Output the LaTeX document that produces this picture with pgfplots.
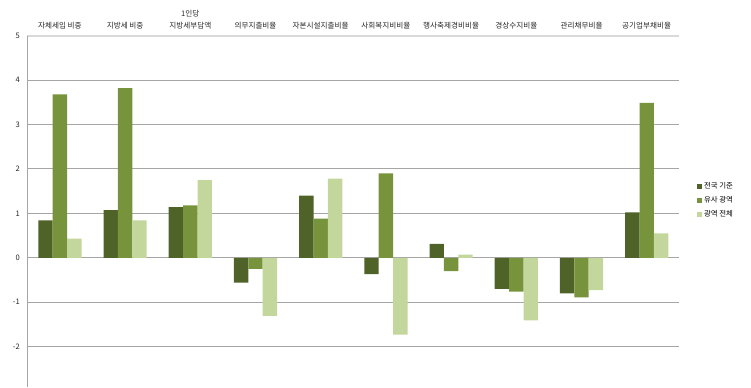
\documentclass[border=0pt]{standalone}
\usepackage{fontspec}
\setmainfont{Noto Sans CJK KR}
\usepackage{pgfplots}
\pgfplotsset{compat=1.18}
\definecolor{cdark}{HTML}{4F6228}
\definecolor{cmid}{HTML}{77933C}
\definecolor{clight}{HTML}{C3D69B}
\definecolor{cgrid}{HTML}{A6A6A6}
\definecolor{ctop}{HTML}{D9D9D9}
\begin{document}
\begin{tikzpicture}[x=1bp,y=1bp]
\useasboundingbox (0,0) rectangle (751,387);
\begin{axis}[
  at={(27.3bp,0bp)}, anchor=south west,
  scale only axis, width=652bp, height=351.3bp,
  xmin=-0.5, xmax=9.5, ymin=-2.91, ymax=5,
  ybar=0pt, bar width=14.4bp,
  legend image code/.code={\fill[#1,draw=none] (0bp,-2.6bp) rectangle (5bp,2.4bp);},
  axis line style={draw=none},
  major tick length=0pt,
  xtick={0,...,9},
  xticklabels={자체세입 비중,지방세 비중,1인당\\지방세부담액,의무지출비율,자본시설지출비율,사회복지비비율,행사축제경비비율,경상수지비율,관리채무비율,공기업부채비율},
  xticklabel pos=upper,
  xticklabel style={font=\fontsize{7.6bp}{12.5bp}\selectfont, align=center, anchor=south, yshift=3bp, color=black!85},
  ytick={-2,...,4},
  extra y ticks={5},
  extra y tick style={grid style={ctop, line width=2bp}},
  ymajorgrids, grid style={cgrid, line width=0.9bp},
  yticklabel style={font=\fontsize{7.6bp}{9bp}\selectfont, xshift=-4bp, color=black!85},
  /pgf/number format/assume math mode=true,
  legend style={at={(1.027,0.532)}, anchor=west, draw=none, fill=none,
    font=\fontsize{7.4bp}{9bp}\selectfont, row sep=2.5bp, inner sep=0pt,
    /tikz/every even column/.append style={column sep=0pt}},
  legend cell align=left,
  clip=false,
]
\addplot[fill=cdark, draw=none] coordinates {(0,0.84) (1,1.07) (2,1.14) (3,-0.56) (4,1.40) (5,-0.37) (6,0.31) (7,-0.70) (8,-0.80) (9,1.02)};
\addplot[fill=cmid, draw=none] coordinates {(0,3.68) (1,3.82) (2,1.18) (3,-0.25) (4,0.88) (5,1.90) (6,-0.30) (7,-0.76) (8,-0.89) (9,3.49)};
\addplot[fill=clight, draw=none] coordinates {(0,0.43) (1,0.84) (2,1.75) (3,-1.31) (4,1.78) (5,-1.73) (6,0.07) (7,-1.41) (8,-0.73) (9,0.55)};
\legend{전국 기준,유사 광역,광역 전체}
\draw[cgrid, line width=0.9bp] (rel axis cs:0,0) -- (rel axis cs:0,1);
\end{axis}
\end{tikzpicture}
\end{document}
